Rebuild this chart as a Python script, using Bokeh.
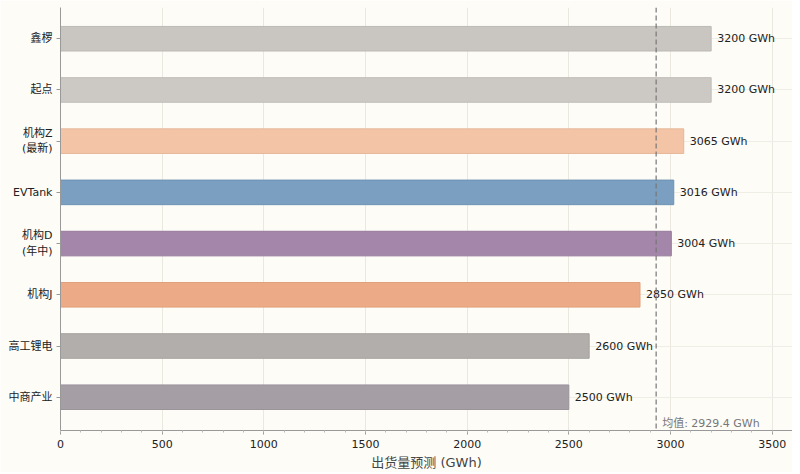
from bokeh.plotting import figure
from bokeh.models import Range1d, Label, Span, FixedTicker, ColumnDataSource
from bokeh.core.properties import value
from bokeh.embed import file_html
from bokeh.resources import INLINE

categories = ["鑫椤", "起点", "机构Z\n(最新)", "EVTank", "机构D\n(年中)", "机构J", "高工锂电", "中商产业"]
values = [3200, 3200, 3065, 3016, 3004, 2850, 2600, 2500]
colors = ["#c9c6c2", "#ccc9c5", "#f3c4a6", "#7a9fc0", "#a386a9", "#ecab86", "#b2aeab", "#a59fa5"]
edges = ["#bdbab6", "#c0bdb9", "#e6b699", "#6e92b2", "#977a9d", "#dfa07b", "#a6a29f", "#99939a"]
x_ticks = [0, 500, 1000, 1500, 2000, 2500, 3000, 3500]
mean_val = sum(values) / len(values)

FONT = "DejaVu Sans, Noto Sans CJK SC"
n = len(categories)
ypos = [n - 1 - i for i in range(n)]
labels = [f"{v} GWh" for v in values]

src = ColumnDataSource(dict(y=ypos, v=values, c=colors, e=edges, lab=labels))

p = figure(width=792, height=472, output_backend="svg", toolbar_location=None,
           x_range=Range1d(0, 3600), y_range=Range1d(-0.65, 7.61),
           min_border_left=60, min_border_right=0, min_border_top=7, min_border_bottom=37)
p.background_fill_color = "#fdfcf7"
p.border_fill_color = "#fdfcf7"
p.outline_line_color = None

p.hbar(y="y", right="v", left=0, height=0.48, fill_color="c", line_color="e", line_width=1, source=src)
p.text(x="v", y="y", text="lab", source=src, x_offset=6, text_baseline="middle",
       text_font=value(FONT), text_font_size="11px", text_color="#222222")

p.add_layout(Span(location=mean_val, dimension="height", line_color="#777777",
                  line_dash="5 3", line_width=1.2))
p.add_layout(Label(x=mean_val, y=-0.65, x_offset=6, y_offset=1, text_baseline="bottom",
                   text=f"均值: {mean_val:.1f} GWh",
                   text_font=FONT, text_font_size="11px", text_color="#777777"))

p.xaxis.ticker = FixedTicker(ticks=x_ticks, minor_ticks=list(range(0, 3601, 100)))
p.xaxis.axis_label = "出货量预测 (GWh)"
p.xaxis.axis_label_text_font = FONT
p.xaxis.axis_label_text_font_style = "normal"
p.xaxis.axis_label_text_font_size = "13px"
p.xaxis.axis_label_standoff = 4
p.yaxis.ticker = FixedTicker(ticks=ypos)
p.yaxis.major_label_overrides = {yp: c for yp, c in zip(ypos, categories)}
for ax in (p.xaxis[0], p.yaxis[0]):
    ax.major_label_text_font = FONT
    ax.major_label_text_font_size = "11px"
    ax.major_label_text_color = "#222222"
    ax.axis_line_color = "#999999"
    ax.major_tick_line_color = "#999999"
    ax.minor_tick_line_color = "#bbbbbb"
    ax.major_tick_out = 4
    ax.major_tick_in = 0
    ax.minor_tick_out = 2
    ax.minor_tick_in = 0
p.yaxis.minor_tick_line_color = None
p.yaxis.major_label_standoff = 4

p.xgrid.ticker = FixedTicker(ticks=x_ticks)
p.xgrid.grid_line_color = "#ebe9df"
p.ygrid.ticker = FixedTicker(ticks=ypos)
p.ygrid.grid_line_color = "#efede4"

open("out.html", "w").write(file_html(p, INLINE))
